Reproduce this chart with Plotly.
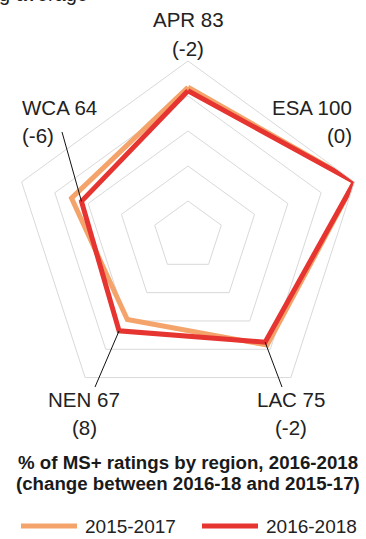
import math
import plotly.graph_objects as go

# Share of MS+ ratings by region
regions = ["APR", "ESA", "LAC", "NEN", "WCA"]
ms_2015_2017 = [85, 100, 77, 59, 70]
ms_2016_2018 = [83, 100, 75, 67, 64]
change = [-2, 0, -2, 8, -6]
ring_ticks = [20, 40, 60, 80, 100]
series_names = ["2015-2017", "2016-2018"]
caption_lines = [
    "% of MS+ ratings by region, 2016-2018",
    "(change between 2016-18 and 2015-17)",
]

ORANGE = "#F4A46A"
RED = "#E63431"
GRID = "#D9D9D9"
TEXT = "#222222"
FONT = "Liberation Sans, Arial, sans-serif"

W, H = 366, 539
CX, CY, RAD = 188, 236, 175  # polar centre and outer radius (px)


def px(x):
    return x / W


def py(y):
    return 1 - y / H


def vertex(i, v):
    """Pixel position of value v on spoke i (clockwise from top)."""
    ang = math.radians(90 - 72 * i)
    return CX + RAD * v / 100 * math.cos(ang), CY - RAD * v / 100 * math.sin(ang)


fig = go.Figure()
for name, vals, color in [
    (series_names[0], ms_2015_2017, ORANGE),
    (series_names[1], ms_2016_2018, RED),
]:
    fig.add_trace(
        go.Scatterpolar(
            r=vals + vals[:1],
            theta=regions + regions[:1],
            mode="lines",
            line=dict(color=color, width=5),
            name=name,
            showlegend=False,
            hoverinfo="skip",
        )
    )

annotations = []
shapes = []

# Region labels: "NAME value" and "(change)"
label_pos = {
    "APR": (188, "center", 20, 48),
    "ESA": (354, "right", 108, 135),
    "LAC": (291, "center", 400, 427),
    "NEN": (84, "center", 400, 427),
    "WCA": (20, "left", 108, 135),
}
for i, reg in enumerate(regions):
    x, anchor, y1, y2 = label_pos[reg]
    annotations.append(dict(
        text=f"{reg} {ms_2016_2018[i]}", x=px(x), y=py(y1), xref="paper", yref="paper",
        xanchor=anchor, yanchor="middle", showarrow=False,
        font=dict(family=FONT, size=20.5, color=TEXT)))
    annotations.append(dict(
        text=f"({change[i]})", x=px(x), y=py(y2), xref="paper", yref="paper",
        xanchor=anchor, yanchor="middle", showarrow=False,
        font=dict(family=FONT, size=20.5, color=TEXT)))

# Leader lines from labels to the 2016-2018 vertices
leader_start = {"WCA": (62, 132), "NEN": (95, 387), "LAC": (282, 387)}
for reg, (sx, sy) in leader_start.items():
    i = regions.index(reg)
    ex, ey = vertex(i, ms_2016_2018[i])
    shapes.append(dict(type="line", xref="paper", yref="paper",
                       x0=px(sx), y0=py(sy), x1=px(ex), y1=py(ey),
                       line=dict(color="#111111", width=1)))

# Caption (two lines)
for line, y in zip(caption_lines, [462, 483]):
    annotations.append(dict(
        text=f"<b>{line}</b>", x=px(188), y=py(y), xref="paper", yref="paper",
        xanchor="center", yanchor="middle", showarrow=False,
        font=dict(family=FONT, size=18.7, color="#1A1A1A")))

# Legend
for (x0, x1, tx), name, color in zip(
    [(21, 77, 83), (202, 258, 264)], series_names, [ORANGE, RED]
):
    shapes.append(dict(type="line", xref="paper", yref="paper",
                       x0=px(x0), x1=px(x1), y0=py(526), y1=py(526),
                       line=dict(color=color, width=5)))
    annotations.append(dict(
        text=name, x=px(tx), y=py(526), xref="paper", yref="paper",
        xanchor="left", yanchor="middle", showarrow=False,
        font=dict(family=FONT, size=19, color=TEXT)))

# Tail of the heading above
annotations.append(dict(
    text="g average", x=px(90), y=py(-6), xref="paper", yref="paper",
    xanchor="right", yanchor="middle", showarrow=False,
    font=dict(family=FONT, size=20, color=TEXT)))

fig.update_layout(
    width=W,
    height=H,
    margin=dict(l=0, r=0, t=0, b=0),
    paper_bgcolor="white",
    plot_bgcolor="white",
    showlegend=False,
    polar=dict(
        domain=dict(x=[px(CX - RAD), px(CX + RAD)], y=[py(CY + RAD), py(CY - RAD)]),
        gridshape="linear",
        bgcolor="white",
        radialaxis=dict(range=[0, 100], tickvals=ring_ticks, showticklabels=False,
                        ticks="", showline=False, gridcolor=GRID, gridwidth=1),
        angularaxis=dict(rotation=90, direction="clockwise", showticklabels=False,
                         ticks="", showgrid=False, linecolor=GRID, linewidth=1,
                         categoryorder="array", categoryarray=regions),
    ),
    annotations=annotations,
    shapes=shapes,
)

fig.write_html("out.html")
